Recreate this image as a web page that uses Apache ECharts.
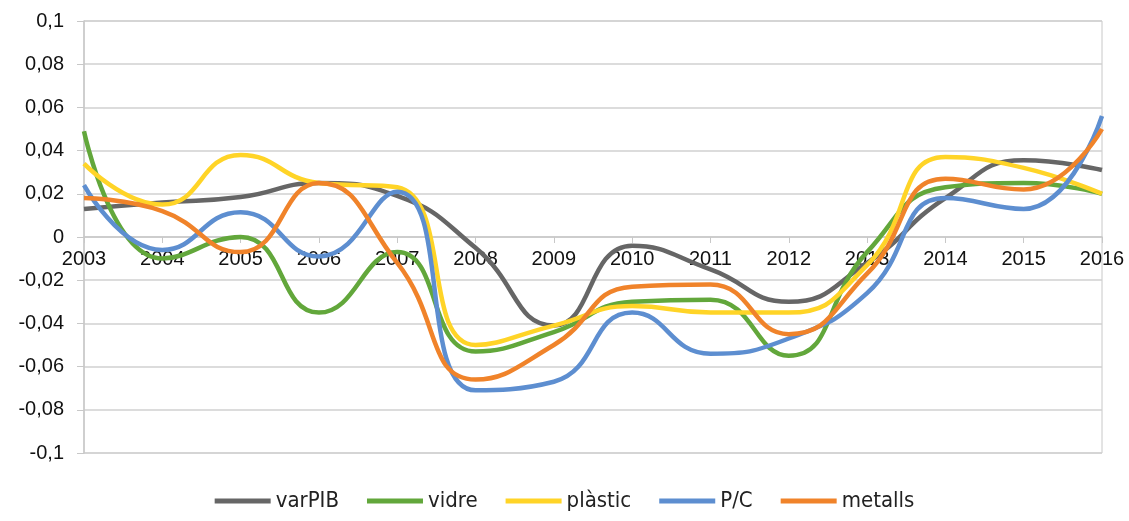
<!DOCTYPE html>
<html>
<head>
<meta charset="utf-8">
<script src="https://cdn.jsdelivr.net/npm/echarts@6/dist/echarts.min.js"></script>
<style>
  html, body { margin: 0; padding: 0; background: #fff; }
  #chart { width: 1129px; height: 521px; }
</style>
</head>
<body>
<div id="chart"></div>
<script>
  const years = ['2003', '2004', '2005', '2006', '2007', '2008', '2009', '2010', '2011', '2012', '2013', '2014', '2015', '2016']
  const varPIB = [0.013, 0.016, 0.0185, 0.025, 0.019, -0.005, -0.041, -0.004, -0.015, -0.030, -0.012, 0.018, 0.0355, 0.031]
  const vidre = [0.049, -0.010, 0.000, -0.035, -0.007, -0.053, -0.044, -0.030, -0.029, -0.055, -0.007, 0.023, 0.025, 0.020]
  const plastic = [0.034, 0.015, 0.038, 0.025, 0.023, -0.050, -0.041, -0.032, -0.035, -0.035, -0.013, 0.037, 0.032, 0.020]
  const pc = [0.024, -0.006, 0.0115, -0.009, 0.021, -0.071, -0.067, -0.035, -0.054, -0.047, -0.026, 0.018, 0.013, 0.056]
  const metalls = [0.018, 0.012, -0.007, 0.025, -0.012, -0.066, -0.050, -0.023, -0.022, -0.045, -0.017, 0.027, 0.022, 0.050]

  const names = ['varPIB', 'vidre', 'plàstic', 'P/C', 'metalls']
  const colors = ['#666666', '#62a73b', '#ffd427', '#5d8ed0', '#f0832a']
  const values = [varPIB, vidre, plastic, pc, metalls]

  const myChart = echarts.init(document.getElementById('chart'))

  // the category axis sits on the zero line, half way down the plot
  const gridTop = 21
  const gridBottom = 68
  const zeroOffset = -(521 - gridTop - gridBottom) / 2

  let option = {
    animation: false,
    color: colors,
    grid: {left: 84, right: 27, top: gridTop, bottom: gridBottom, show: true, borderColor: '#c8c8c8', borderWidth: 1},
    legend: {
      bottom: 4,
      left: 'center',
      icon: 'rect',
      itemWidth: 56,
      itemHeight: 5,
      itemGap: 28,
      textStyle: {fontFamily: 'DejaVu Sans Condensed, sans-serif', fontSize: 22, color: '#222'},
      data: names
    },
    xAxis: {
      type: 'category',
      data: years,
      boundaryGap: false,
      offset: zeroOffset,
      axisLine: {onZero: false, lineStyle: {color: '#c8c8c8', width: 1.5}},
      axisTick: {show: true, length: 6, lineStyle: {color: '#c8c8c8'}},
      axisLabel: {margin: 12, color: '#111', fontSize: 20, fontFamily: 'Liberation Sans, Arial, sans-serif', interval: 0},
      splitLine: {show: false}
    },
    yAxis: {
      type: 'value',
      min: -0.1,
      max: 0.1,
      interval: 0.02,
      axisLine: {show: true, lineStyle: {color: '#c8c8c8', width: 1.5}},
      axisTick: {show: true, length: 7, lineStyle: {color: '#c8c8c8'}},
      axisLabel: {
        margin: 20,
        color: '#111',
        fontSize: 20,
        fontFamily: 'Liberation Sans, Arial, sans-serif',
        formatter: v => String(Number(v.toFixed(2))).replace('.', ',')
      },
      splitLine: {lineStyle: {color: '#d0d0d0', width: 1.5}}
    },
    series: names.map((n, i) => ({
      name: n,
      type: 'line',
      data: values[i],
      smooth: 0.5,
      symbol: 'none',
      lineStyle: {width: 4.5, color: colors[i]},
      itemStyle: {color: colors[i]}
    }))
  }

  myChart.setOption(option)
</script>
</body>
</html>
